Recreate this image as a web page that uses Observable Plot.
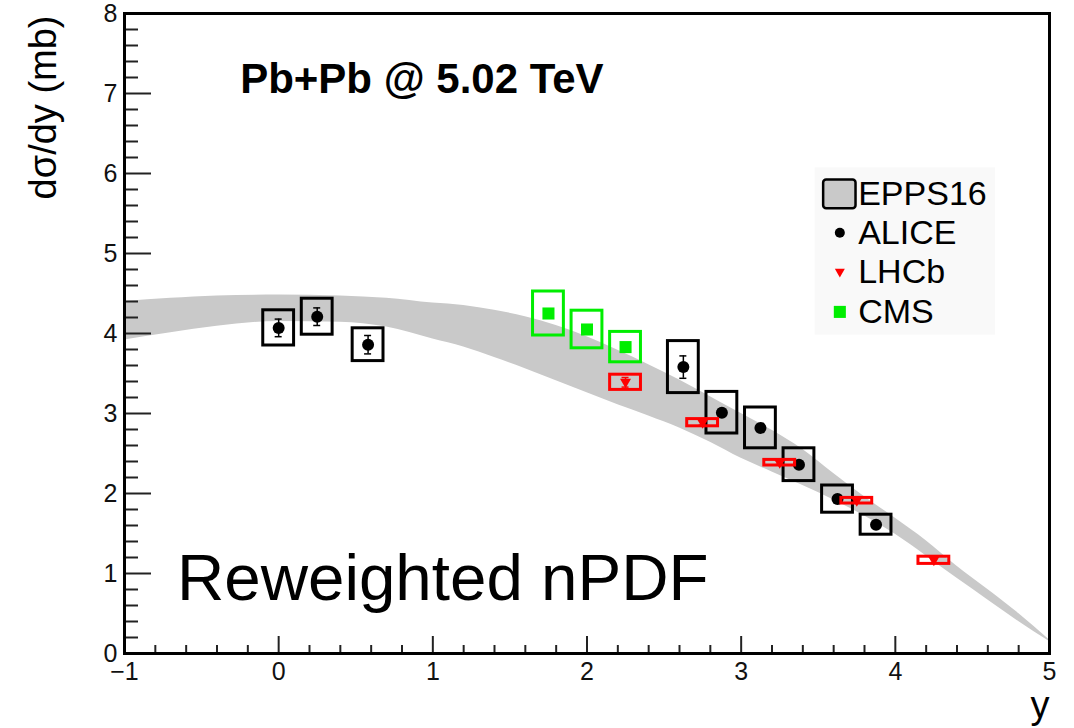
<!DOCTYPE html>
<html><head><meta charset="utf-8">
<script src="https://cdn.jsdelivr.net/npm/d3@7"></script>
<script src="https://cdn.jsdelivr.net/npm/@observablehq/plot@0.6"></script>
<style>
html,body{margin:0;padding:0;background:#fff;}
#chart svg{display:block;}
</style></head><body><div id="chart"></div>
<script>
// EPPS16 band (rapidity, lower edge, upper edge)
const bandX  = [-1.0,-0.7,-0.4,0.0,0.4,0.7,1.0,1.2,1.4,1.6,1.8,2.0,2.2,2.4,2.6,2.8,3.0,3.2,3.4,3.6,3.8,4.0,4.2,4.4,4.6,4.8,5.0];
const bandLo = [3.92,4.01,4.09,4.15,4.14,4.08,3.93,3.83,3.70,3.56,3.41,3.26,3.11,2.97,2.82,2.64,2.44,2.27,2.10,1.92,1.72,1.49,1.22,0.94,0.67,0.40,0.15];
const bandHi = [4.40,4.44,4.47,4.48,4.47,4.44,4.38,4.35,4.29,4.21,4.10,3.96,3.79,3.61,3.42,3.21,3.00,2.79,2.55,2.25,1.96,1.69,1.41,1.09,0.80,0.50,0.17];

// ALICE
const aliceY    = [0.0,0.25,0.58,2.625,2.875,3.125,3.375,3.625,3.875];
const aliceVal  = [4.07,4.21,3.86,3.58,3.01,2.82,2.36,1.93,1.61];
const aliceStat = [0.11,0.11,0.115,0.14,0.04,0.04,0.04,0.04,0.04];
const aliceSys  = [0.22,0.225,0.205,0.325,0.26,0.255,0.205,0.17,0.125];
// LHCb
const lhcbY    = [2.25,2.75,3.25,3.75,4.25];
const lhcbVal  = [3.39,2.885,2.385,1.91,1.165];
const lhcbStat = [0.06,0.03,0.02,0.02,0.03];
const lhcbSys  = [0.095,0.045,0.035,0.035,0.045];
// CMS
const cmsY    = [1.75,2.0,2.25];
const cmsVal  = [4.25,4.05,3.83];
const cmsStat = [0.04,0.04,0.04];
const cmsSys  = [0.275,0.235,0.19];
const binHalfWidth = 0.1;

const xTicks = [-1,0,1,2,3,4,5];
const yTicks = [0,1,2,3,4,5,6,7,8];
const legendLabels = ["EPPS16","ALICE","LHCb","CMS"];
const titleText = "Pb+Pb @ 5.02 TeV";
const noteText = "Reweighted nPDF";
const yLabel = "dσ/dy (mb)";
const xLabel = "y";

// build tables
const band = bandX.map((x,i)=>({x, lo:bandLo[i], hi:bandHi[i]}));
const mk = (xs, vs, st, sy) => xs.map((x,i)=>({x, v:vs[i], stat:st[i], sys:sy[i]}));
const alice = mk(aliceY, aliceVal, aliceStat, aliceSys);
const lhcb = mk(lhcbY, lhcbVal, lhcbStat, lhcbSys);
const cms = mk(cmsY, cmsVal, cmsStat, cmsSys);

const xMinor = d3.range(-1, 5.001, 0.2).map(v=>+v.toFixed(2)).filter(v=>Math.abs(v-Math.round(v))>1e-6);
const yMinor = d3.range(0, 8.001, 0.2).map(v=>+v.toFixed(2)).filter(v=>Math.abs(v-Math.round(v))>1e-6);

const triangleDown = {draw(ctx, size){ const r=Math.sqrt(size/Math.PI); ctx.moveTo(-r,-0.65*r); ctx.lineTo(r,-0.65*r); ctx.lineTo(0,1.1*r); ctx.closePath(); }};

const boxes = (data, color) => Plot.rect(data, {x1:d=>d.x-binHalfWidth, x2:d=>d.x+binHalfWidth, y1:d=>d.v-d.sys, y2:d=>d.v+d.sys, fill:"none", stroke:color, strokeWidth:3});
const errs = (data, color) => [
  Plot.ruleX(data, {x:"x", y1:d=>d.v-d.stat, y2:d=>d.v+d.stat, stroke:color, strokeWidth:1.5}),
  Plot.ruleY(data, {y:d=>d.v+d.stat, x1:"x", x2:"x", insetLeft:-3.5, insetRight:-3.5, stroke:color, strokeWidth:1.5}),
  Plot.ruleY(data, {y:d=>d.v-d.stat, x1:"x", x2:"x", insetLeft:-3.5, insetRight:-3.5, stroke:color, strokeWidth:1.5})
];

// legend layout (data coordinates)
const legRowY = [5.74, 5.26, 4.77, 4.27];
const legSymX = 3.64, legTextX = 3.785;
const legend = legendLabels.map((label,i)=>({label, x:legSymX, tx:legTextX, y:legRowY[i]}));

const font = "'Liberation Sans', Arial, Helvetica, sans-serif";
const fmt = d => (d < 0 ? "\u2212" : "") + Math.abs(d);

const chart = Plot.plot({
  width:1074, height:728,
  marginLeft:124, marginRight:25, marginTop:13, marginBottom:75,
  x:{domain:[-1,5], axis:null},
  y:{domain:[0,8], axis:null},
  style:{fontFamily:font, fontSize:"25px", background:"white", color:"black", overflow:"visible"},
  marks:[
    // legend background
    Plot.rect([0], {x1:3.48, x2:4.65, y1:3.98, y2:6.07, fill:"#f9f9f9"}),
    // band
    Plot.areaY(band, {x:"x", y1:"lo", y2:"hi", fill:"#c9c9c9", curve:"monotone-x"}),
    // ALICE & CMS
    boxes(alice, "black"),
    boxes(cms, "#00ee00"),
    ...errs(alice, "black"),
    ...errs(cms, "#00ee00"),
    Plot.dot(alice, {x:"x", y:"v", r:6, fill:"black", stroke:"none"}),
    Plot.dot(cms, {x:"x", y:"v", r:6.8, symbol:"square", fill:"#00ee00", stroke:"none"}),
    // LHCb on top
    boxes(lhcb, "#ff0000"),
    ...errs(lhcb, "#ff0000"),
    Plot.dot(lhcb, {x:"x", y:"v", r:5.5, symbol:triangleDown, fill:"#ff0000", stroke:"none"}),
    // ticks inside the frame
    Plot.axisX({anchor:"top", frameAnchor:"bottom", ticks:xTicks, tickSize:18, fill:"none", label:null, stroke:"#222", strokeWidth:2}),
    Plot.axisX({anchor:"top", frameAnchor:"bottom", ticks:xMinor, tickSize:9, fill:"none", label:null, stroke:"#222", strokeWidth:2}),
    Plot.axisY({anchor:"right", frameAnchor:"left", ticks:yTicks, tickSize:26, fill:"none", label:null, stroke:"#222", strokeWidth:2}),
    Plot.axisY({anchor:"right", frameAnchor:"left", ticks:yMinor, tickSize:13, fill:"none", label:null, stroke:"#222", strokeWidth:2}),
    // tick labels
    Plot.axisX({anchor:"bottom", ticks:xTicks, tickSize:0, tickPadding:9, label:null, fontSize:25, tickFormat:fmt, fill:"#111"}),
    Plot.axisY({anchor:"left", ticks:yTicks, tickSize:0, tickPadding:7, label:null, fontSize:25, tickFormat:fmt, fill:"#111"}),
    Plot.frame({stroke:"black", strokeWidth:3}),
    // axis titles
    Plot.text([yLabel], {frameAnchor:"top-left", text:d=>d, rotate:-90, textAnchor:"end", lineAnchor:"middle", dx:-81, dy:2, fontSize:38}),
    Plot.text([xLabel], {frameAnchor:"bottom-right", text:d=>d, textAnchor:"end", lineAnchor:"bottom", dy:64, fontSize:38}),
    // annotations
    Plot.text([titleText], {x:-0.25, y:7.01, text:d=>d, textAnchor:"start", lineAnchor:"bottom", fontSize:42, fontWeight:"bold"}),
    Plot.text([noteText], {x:-0.66, y:0.666, text:d=>d, textAnchor:"start", lineAnchor:"bottom", fontSize:65.5}),
    // legend
    Plot.rect(legend.slice(0,1), {x1:d=>d.x-0.105, x2:d=>d.x+0.105, y1:d=>d.y-0.18, y2:d=>d.y+0.18, fill:"#c9c9c9", stroke:"black", strokeWidth:2.5, rx:3}),
    Plot.dot(legend.slice(1,2), {x:"x", y:"y", r:5, fill:"black", stroke:"none"}),
    Plot.dot(legend.slice(2,3), {x:"x", y:"y", r:5, symbol:triangleDown, fill:"#ff0000", stroke:"none"}),
    Plot.dot(legend.slice(3,4), {x:"x", y:"y", r:6.8, symbol:"square", fill:"#00ee00", stroke:"none"}),
    Plot.text(legend, {x:"tx", y:"y", text:"label", textAnchor:"start", lineAnchor:"middle", fontSize:34, dx:-4})
  ]
});
document.getElementById("chart").appendChild(chart);
</script>
</body></html>
